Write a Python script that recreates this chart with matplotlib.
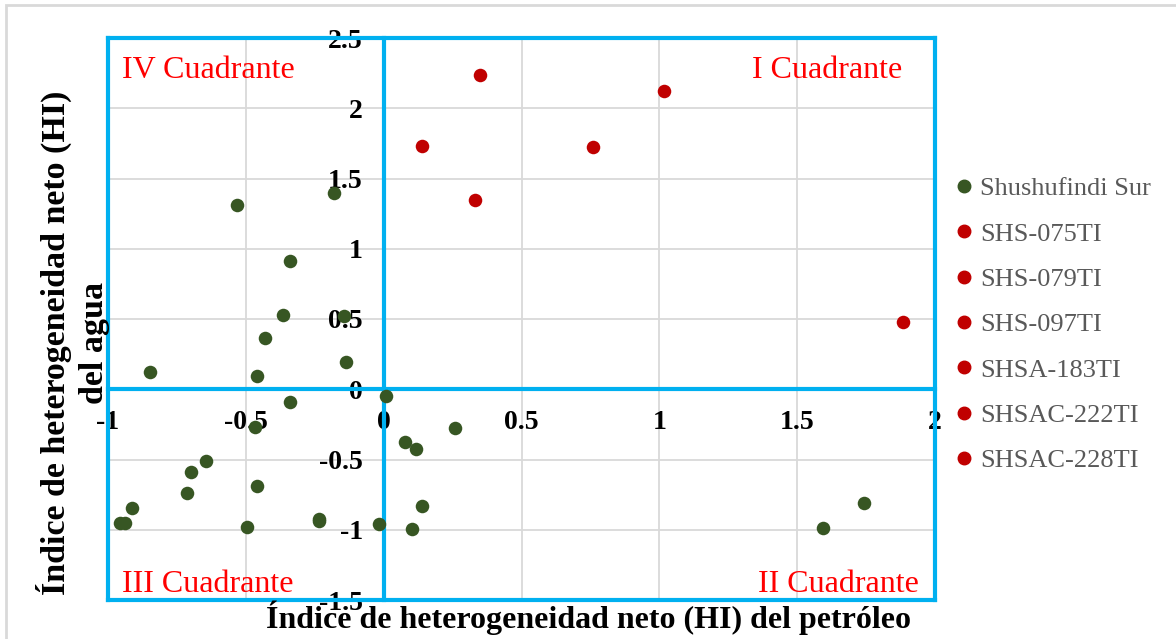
import matplotlib
matplotlib.use("Agg")
import matplotlib.pyplot as plt
from matplotlib.patches import Rectangle
from matplotlib.lines import Line2D

# ---- data ----
sur_x = [-0.533, -0.180, -0.340, -0.366, -0.145, -0.431, -0.849, -0.458, -0.135,
         -0.340, -0.466, -0.645, -0.698, -0.714, -0.461, -0.914, -0.958, -0.940,
         -0.494, -0.233, -0.233, -0.018, 0.009, 0.257, 0.077, 0.119, 0.139, 0.101,
         1.594, 1.744]
sur_y = [1.312, 1.400, 0.912, 0.529, 0.519, 0.364, 0.126, 0.095, 0.193,
         -0.093, -0.271, -0.514, -0.588, -0.736, -0.690, -0.845, -0.952, -0.952,
         -0.981, -0.926, -0.940, -0.957, -0.048, -0.274, -0.376, -0.426, -0.829, -0.998,
         -0.986, -0.807]

well_names = ["SHS-075TI", "SHS-079TI", "SHS-097TI", "SHSA-183TI", "SHSAC-222TI", "SHSAC-228TI"]
well_x = [0.349, 1.016, 0.138, 0.760, 0.331, 1.883]
well_y = [2.236, 2.121, 1.733, 1.724, 1.345, 0.477]

x_ticks = [-1, -0.5, 0, 0.5, 1, 1.5, 2]
y_ticks = [-1.5, -1, -0.5, 0, 0.5, 1, 1.5, 2, 2.5]
quad_labels = ["I Cuadrante", "II Cuadrante", "III Cuadrante", "IV Cuadrante"]

# ---- style ----
GREEN = "#375623"
RED = "#C00000"
BLUE = "#00B0F0"
GRID = "#D9D9D9"
SERIF = ["Liberation Serif", "DejaVu Serif"]

W, H = 1176, 639
fig = plt.figure(figsize=(W / 100, H / 100), dpi=100)

# outer chart border
fig.patches.append(Rectangle((6 / W, -0.1), 1.2, 1 - 5 / H + 0.1, transform=fig.transFigure,
                             fill=False, edgecolor="#D9D9D9", linewidth=2))

L, R, T, B = 108, 935, 38, 600
ax = fig.add_axes([L / W, 1 - B / H, (R - L) / W, (B - T) / H])
ax.set_xlim(-1, 2)
ax.set_ylim(-1.5, 2.5)

ax.set_xticks(x_ticks)
ax.set_yticks(y_ticks)
ax.set_xticklabels([f"{v:g}" for v in x_ticks])
ax.set_yticklabels([f"{v:g}" for v in y_ticks])
ax.grid(True, color=GRID, linewidth=1.3, zorder=0)
ax.set_axisbelow(True)

for side in ["top", "right", "left", "bottom"]:
    ax.spines[side].set_color(BLUE)
    ax.spines[side].set_linewidth(3)
ax.spines["left"].set_position(("data", 0))
ax.spines["bottom"].set_position(("data", 0))
ax.axvline(-1, color=BLUE, lw=3, zorder=1, clip_on=False)
ax.axhline(-1.5, color=BLUE, lw=3, zorder=1, clip_on=False)

ax.tick_params(axis="both", length=0)
ax.tick_params(axis="x", pad=15)
ax.tick_params(axis="y", pad=15)
for lab in ax.get_xticklabels() + ax.get_yticklabels():
    lab.set_fontfamily(SERIF)
    lab.set_fontweight("bold")
    lab.set_fontsize(20)
    lab.set_color("black")

ax.scatter(sur_x, sur_y, s=95, color=GREEN, zorder=3, linewidths=0)
for nx, ny in zip(well_x, well_y):
    ax.scatter([nx], [ny], s=95, color=RED, zorder=3, linewidths=0)

# quadrant labels
qkw = dict(color="#FF0000", fontsize=23, family=SERIF)
ax.text(1.88, 2.27, quad_labels[0], ha="right", va="center", **qkw)
ax.text(1.94, -1.39, quad_labels[1], ha="right", va="center", **qkw)
ax.text(-0.95, -1.39, quad_labels[2], ha="left", va="center", **qkw)
ax.text(-0.95, 2.27, quad_labels[3], ha="left", va="center", **qkw)

# axis titles
fig.text(588 / W, 1 - 618 / H, "Índice de heterogeneidad neto (HI) del petróleo",
         ha="center", va="center", fontsize=23, fontweight="bold", family=SERIF)
fig.text(73 / W, 1 - 343 / H, "Índice de heterogeneidad neto (HI)\ndel agua",
         ha="center", va="center", rotation=90, fontsize=24.5, fontweight="bold",
         family=SERIF, linespacing=1.3)

# legend
handles = [Line2D([], [], marker="o", ls="", color=GREEN, markersize=9)]
handles += [Line2D([], [], marker="o", ls="", color=RED, markersize=9) for _ in well_names]
leg = fig.legend(handles, ["Shushufindi Sur"] + well_names, loc="upper left",
                 bbox_to_anchor=(927 / W, 1 - 153 / H), frameon=False,
                 prop={"family": SERIF, "size": 19}, labelcolor="#595959",
                 handletextpad=0.1, handlelength=1.0, labelspacing=0.83)

fig.savefig("out.png", dpi=100)
